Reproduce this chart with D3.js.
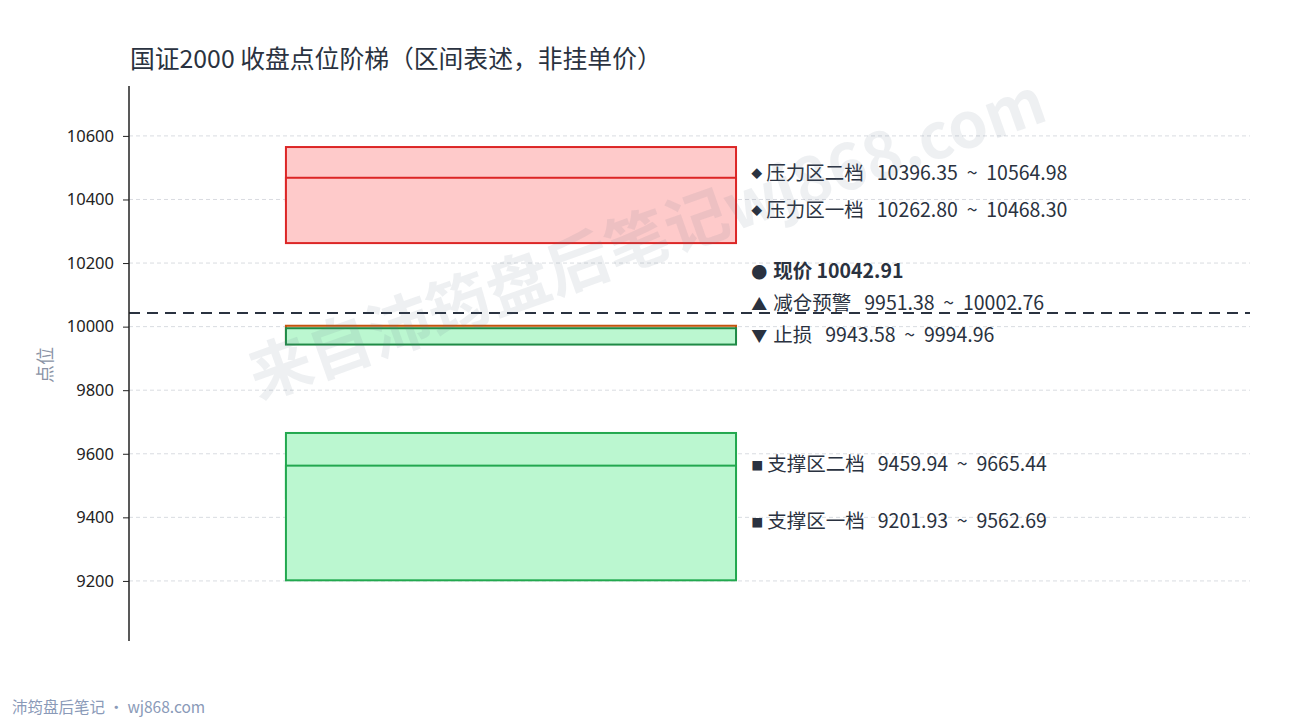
<!DOCTYPE html>
<html lang="zh">
<head>
<meta charset="UTF-8">
<title>国证2000 收盘点位阶梯</title>
<style>
  body { margin: 0; background: #fff; font-family: "Noto Sans CJK SC", "Noto Sans", sans-serif; }
  svg  { display: block; }
  .grid line { stroke: #d9dce1; stroke-dasharray: 4 3; }
  .yaxis path, .yaxis line { stroke: #222; }
  .yaxis text { font-size: 16.5px; fill: #222; font-family: "Noto Sans", "Noto Sans CJK SC", sans-serif; }
  .lbl { font-size: 19.5px; fill: #2a3240; }
</style>
</head>
<body>
<svg id="chart" width="1290" height="720"></svg>
<script src="https://d3js.org/d3.v7.min.js"></script>
<script>
// zones: name, low, high, marker, kind
const zoneNames  = ['压力区二档', '压力区一档', '减仓预警', '止损', '支撑区二档', '支撑区一档'];
const zoneLow    = [10396.35, 10262.80, 9951.38, 9943.58, 9459.94, 9201.93];
const zoneHigh   = [10564.98, 10468.30, 10002.76, 9994.96, 9665.44, 9562.69];
const zoneMarks  = ['◆', '◆', '▲', '▼', '■', '■'];
const zoneKinds  = ['resist', 'resist', 'warn', 'stop', 'support', 'support'];

const currentPrice = 10042.91;
const yTicks = [9200, 9400, 9600, 9800, 10000, 10200, 10400, 10600];
const yDomain = [9011, 10757];

const styles = {
  resist:  { fill: '#fecaca', stroke: '#dc2626' },
  warn:    { fill: '#fde2c8', stroke: '#c2540f' },
  stop:    { fill: '#bbf7d0', stroke: '#1f8a46' },
  support: { fill: '#bbf7d0', stroke: '#22a84f' }
};

const svg = d3.select('#chart');
const margin = { top: 86, right: 40, bottom: 79, left: 129 };
const W = 1290, H = 720;
const innerW = W - margin.left - margin.right,
      innerH = H - margin.top - margin.bottom;

const g = svg.append('g').attr('transform', `translate(${margin.left},${margin.top})`);

const x = d3.scaleLinear().domain([0, 10]).range([0, innerW]);
const y = d3.scaleLinear().domain(yDomain).range([innerH, 0]);

// title
svg.append('text')
   .attr('x', 130).attr('y', 68)
   .attr('font-size', 24.8).attr('fill', '#2a3240')
   .text('国证2000 收盘点位阶梯（区间表述，非挂单价）');

// grid
g.append('g').attr('class', 'grid')
 .selectAll('line').data(yTicks).enter().append('line')
 .attr('x1', 0).attr('x2', innerW)
 .attr('y1', d => y(d)).attr('y2', d => y(d));

// zones (later ones drawn over earlier ones)
const zones = zoneNames.map((n, i) => ({
  name: n, low: zoneLow[i], high: zoneHigh[i], mark: zoneMarks[i], kind: zoneKinds[i]
}));

g.selectAll('rect.zone')
 .data(zones)
 .enter().append('rect')
 .attr('class', 'zone')
 .attr('x', x(1.4))
 .attr('width', x(5.415) - x(1.4))
 .attr('y', d => y(d.high))
 .attr('height', d => y(d.low) - y(d.high))
 .attr('fill', d => styles[d.kind].fill)
 .attr('stroke', d => styles[d.kind].stroke)
 .attr('stroke-width', 2);

// current price line
g.append('line')
 .attr('x1', 0).attr('x2', innerW)
 .attr('y1', y(currentPrice)).attr('y2', y(currentPrice))
 .attr('stroke', '#2a3240').attr('stroke-width', 2.2)
 .attr('stroke-dasharray', '11 7');

// y axis
g.append('g').attr('class', 'yaxis')
 .call(d3.axisLeft(y).tickValues(yTicks).tickSize(6).tickPadding(9).tickFormat(d3.format('d')))
 .call(a => a.select('.domain').attr('d', `M0,0V${innerH}`).attr('stroke-width', 1.5));

// y label
svg.append('text')
   .attr('transform', 'translate(52,365) rotate(-90)')
   .attr('text-anchor', 'middle')
   .attr('font-size', 18).attr('fill', '#8a93a5')
   .text('点位');

// labels with simple collision push (bottom-up)
const sp = '\u00A0';
const labels = zones.map(z => ({
  text: `${z.name}${sp}${sp}${sp}${z.low.toFixed(2)}${sp}${sp}~${sp}${sp}${z.high.toFixed(2)}`,
  mark: z.mark, bold: false, y: y((z.low + z.high) / 2)
}));
labels.push({ text: `现价${sp}${currentPrice.toFixed(2)}`, mark: '●', bold: true, y: y(currentPrice) });
labels.sort((a, b) => b.y - a.y);
const gap = 32;
for (let i = 1; i < labels.length; i++) {
  if (labels[i - 1].y - labels[i].y < gap) labels[i].y = labels[i - 1].y - gap;
}

const lg = g.selectAll('g.lbl').data(labels).enter().append('g')
  .attr('transform', d => `translate(${x(5.55)},${d.y + 5.5})`);
lg.append('text')
  .attr('class', 'lbl')
  .attr('dy', '0.35em')
  .attr('font-weight', d => d.bold ? 'bold' : 'normal')
  .each(function(d) {
    const t = d3.select(this);
    const small = d.mark === '◆' || d.mark === '■';
    t.append('tspan')
     .attr('font-size', d.mark === '◆' ? 11 : d.mark === '■' ? 12 : 16)
     .attr('dy', d.mark === '◆' ? '-0.1em' : 0)
     .text(d.mark);
    t.append('tspan').attr('dx', small ? 4 : 6)
     .attr('dy', d.mark === '◆' ? '0.1em' : 0)
     .text(d.text);
  });

// watermark
svg.append('text')
   .attr('transform', 'translate(645,234) rotate(-19.5)')
   .attr('text-anchor', 'middle').attr('dominant-baseline', 'central')
   .attr('font-size', 63).attr('font-weight', 'bold')
   .attr('fill', '#64748b').attr('fill-opacity', 0.11)
   .text('来自沛筠盘后笔记wj868.com');

// footer
svg.append('text')
   .attr('x', 12).attr('y', 713)
   .attr('font-size', 15.5).attr('fill', '#8a9ab8')
   .text('沛筠盘后笔记 · wj868.com');
</script>
</body>
</html>
